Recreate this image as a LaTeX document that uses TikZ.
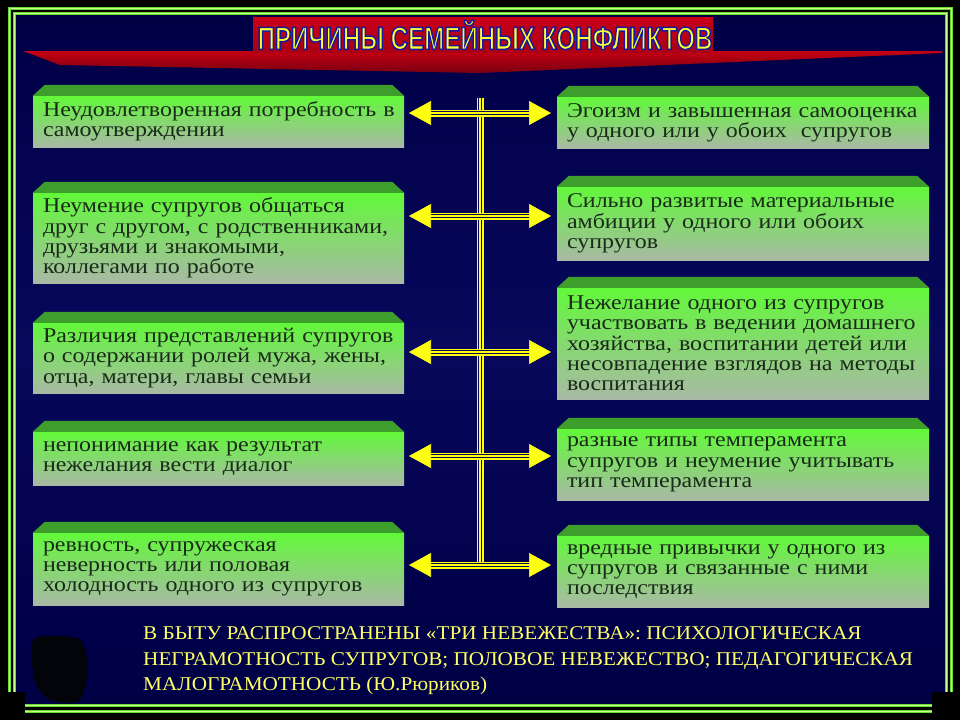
\documentclass[tikz,border=0pt]{standalone}
\usepackage{fontspec}
\usetikzlibrary{arrows.meta}
\setmainfont{Liberation Serif}
\newfontfamily\boxfont[FakeStretch=1.14]{Liberation Serif}
\newfontfamily\notefont[FakeStretch=1.088]{Liberation Serif}
\newfontfamily\titlefont[FakeStretch=0.755,FakeBold=4.5]{Liberation Sans Bold}
\definecolor{bgA}{HTML}{04040C}
\definecolor{bgB}{HTML}{000028}
\definecolor{bgC}{HTML}{000048}
\definecolor{bgD}{HTML}{08085C}
\definecolor{bgE}{HTML}{00003C}
\definecolor{bgF}{HTML}{00001A}
\definecolor{lineBg}{HTML}{0A0A50}
\definecolor{yl}{HTML}{FFFF10}
\definecolor{faceTop}{HTML}{62F83A}
\definecolor{faceBot}{HTML}{A9B9A5}
\definecolor{trapCol}{HTML}{3E9E2C}
\definecolor{txtCol}{HTML}{1A2A1A}
\definecolor{frameG}{HTML}{66DD33}
\definecolor{frameL}{HTML}{CCFF88}
\definecolor{titleRed}{HTML}{C80018}
\definecolor{bandTop}{HTML}{C40012}
\definecolor{bandBot}{HTML}{7A0010}
\definecolor{tYellow}{HTML}{FFFF33}
\definecolor{noteYellow}{HTML}{FFFF66}
\pgfdeclareverticalshading{bgshade}{100bp}{color(0bp)=(bgF); color(9bp)=(bgE); color(30bp)=(bgC); color(51bp)=(bgD); color(73bp)=(bgC); color(88bp)=(bgB); color(94bp)=(bgA); color(100bp)=(bgA)}
\begin{document}
\begin{tikzpicture}[x=1pt,y=-1pt,
  face/.style={rectangle, inner sep=0pt, top color=faceTop, bottom color=faceBot,
    text=txtCol, align=left, font=\boxfont\fontsize{21}{20.3}\selectfont},
  lface/.style={face, minimum width=371pt, text width=351pt},
  rface/.style={face, minimum width=372pt, text width=352pt},
  trap/.style={fill=trapCol},
  triple/.style={draw=yl, line width=1.5pt, double=lineBg, double distance=4pt,
    postaction={draw=yl, line width=1.2pt}},
  heads/.style={draw=yl, fill=yl, line width=0.6pt,
    {Triangle[length=22pt,width=24pt]}-{Triangle[length=22pt,width=24pt]}},
  frameline/.style={draw=frameG, line width=3pt, postaction={draw=frameL, line width=1pt}}
]
\useasboundingbox (0,0) rectangle (960,720);
% outer black
\fill[black] (0,0) rectangle (960,720);
% background gradient
\shade[shading=bgshade] (16,15) rectangle (945,704);
% red band and title box
\shade[top color=bandTop, bottom color=bandBot] (23,51) -- (942,51) -- (942,53) -- (480,73) -- (60,65) -- cycle;
\shade[top color=titleRed, bottom color=titleRed!85!black] (253,17) rectangle (713,52);
\node (title) at (485,35) {\titlefont\fontsize{32}{32}\selectfont\color{tYellow}\special{pdf:literal direct 0.1 0.1 0.62 RG}ПРИЧИНЫ СЕМЕЙНЫХ КОНФЛИКТОВ};

% left boxes
\node[lface, minimum height=51pt] (L1) at (218.5,121.5) {\mbox{Неудовлетворенная потребность в}\\самоутверждении};
\node[lface, minimum height=90pt] (L2) at (218.5,238) {Неумение супругов общаться\\друг с другом, с родственниками,\\друзьями и знакомыми,\\коллегами по работе};
\node[lface, minimum height=70pt] (L3) at (218.5,358) {Различия представлений супругов\\о содержании ролей мужа, жены,\\отца, матери, главы семьи};
\node[lface, minimum height=53pt] (L4) at (218.5,458.5) {непонимание как результат\\нежелания вести диалог};
\node[lface, minimum height=72pt] (L5) at (218.5,569) {ревность, супружеская\\неверность или половая\\холодность одного из супругов};
% right boxes
\node[rface, minimum height=51pt] (R1) at (743,122.5) {\mbox{Эгоизм и завышенная самооценка}\\у одного или у обоих~ супругов};
\node[rface, minimum height=73pt] (R2) at (743,223.5) {Сильно развитые материальные\\амбиции у одного или обоих\\супругов};
\node[rface, minimum height=111pt] (R3) at (743,343.5) {Нежелание одного из супругов\\\mbox{участвовать в ведении домашнего}\\хозяйства, воспитании детей или\\\mbox{несовпадение взглядов на методы}\\воспитания};
\node[rface, minimum height=71pt] (R4) at (743,464.5) {разные типы темперамента\\супругов и неумение учитывать\\тип темперамента};
\node[rface, minimum height=71pt] (R5) at (743,571.5) {вредные привычки у одного из\\супругов и связанные с ними\\последствия};

% 3D tops
\foreach \b in {L1,L2,L3,L4,L5,R1,R2,R3,R4,R5}{
  \fill[trap] (\b.north west) -- ([shift={(12,-11)}]\b.north west) -- ([shift={(-12,-11)}]\b.north east) -- (\b.north east) -- cycle;
}

% connectors
\coordinate (sTop) at (480,98);
\coordinate (sBot) at (480,568);
\draw[triple] (sTop) -- (sBot);
\foreach \i/\y in {1/113,2/216,3/352,4/456,5/565}{
  \coordinate (a\i w) at (409,\y);
  \coordinate (a\i e) at (551,\y);
  \draw[triple, shorten <=12pt, shorten >=12pt] (a\i w) -- (a\i e);
  \draw[heads] (a\i w) -- (a\i e);
}

% bottom note
\node[anchor=west, align=left, text=noteYellow, inner sep=0pt,
  font=\notefont\fontsize{19.5}{25.5}\selectfont] (note) at (143,661)
  {В БЫТУ РАСПРОСТРАНЕНЫ «ТРИ НЕВЕЖЕСТВА»: ПСИХОЛОГИЧЕСКАЯ\\НЕГРАМОТНОСТЬ СУПРУГОВ; ПОЛОВОЕ НЕВЕЖЕСТВО; ПЕДАГОГИЧЕСКАЯ\\МАЛОГРАМОТНОСТЬ (Ю.Рюриков)};

% dark blob
\fill[fill={rgb,255:red,3;green,3;blue,10}] plot[smooth cycle] coordinates {(33,640) (47,636) (77,638) (85,650) (88,670) (85,687) (80,700) (67,703) (50,700) (37,687) (32,663)};

% frame
\draw[frameline] (9,8) rectangle (951,711);
\draw[frameline] (14.5,13.5) rectangle (946.5,705.5);
\fill[black] (0,692) rectangle (25,720);
\fill[black] (932,692) rectangle (960,720);
\end{tikzpicture}
\end{document}
